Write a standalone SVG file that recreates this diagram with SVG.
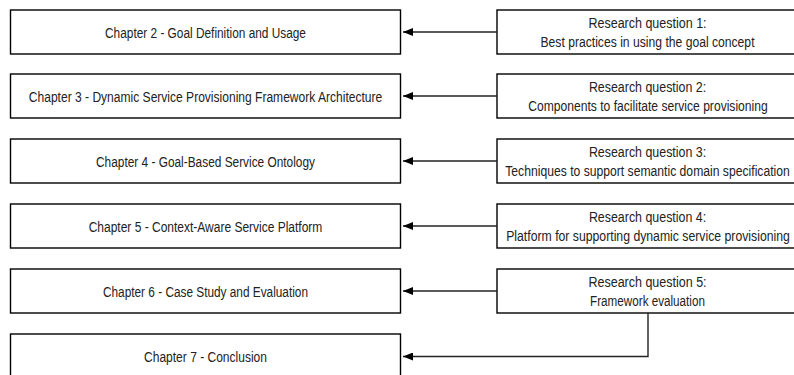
<svg xmlns="http://www.w3.org/2000/svg" width="794" height="375" viewBox="0 0 794 375">
<style>
.box{fill:#fff;stroke:#000;stroke-width:1.4}
.t{font-family:"Liberation Sans",Arial,sans-serif;font-size:14px;fill:#222;text-anchor:middle}
.c{fill:none;stroke:#222;stroke-width:1.4}
</style>
<defs>
<marker id="ah" markerWidth="10" markerHeight="8" refX="10" refY="4" orient="auto" markerUnits="userSpaceOnUse">
<path d="M0,0 L10,4 L0,8 Z" fill="#000"/>
</marker>
</defs>
<g id="ch2"><rect class="box" x="10.5" y="10" width="390" height="44"/><text class="t" transform="translate(205.5,37.5) scale(0.82,1)" textLength="245" lengthAdjust="spacingAndGlyphs">Chapter 2 - Goal Definition and Usage</text></g>
<g id="ch3"><rect class="box" x="10.5" y="74" width="390" height="44"/><text class="t" transform="translate(205.5,101.5) scale(0.82,1)" textLength="431" lengthAdjust="spacingAndGlyphs">Chapter 3 - Dynamic Service Provisioning Framework Architecture</text></g>
<g id="ch4"><rect class="box" x="10.5" y="139" width="390" height="44"/><text class="t" transform="translate(205.5,166.5) scale(0.82,1)" textLength="267" lengthAdjust="spacingAndGlyphs">Chapter 4 - Goal-Based Service Ontology</text></g>
<g id="ch5"><rect class="box" x="10.5" y="204" width="390" height="44"/><text class="t" transform="translate(205.5,231.5) scale(0.82,1)" textLength="285" lengthAdjust="spacingAndGlyphs">Chapter 5 - Context-Aware Service Platform</text></g>
<g id="ch6"><rect class="box" x="10.5" y="269" width="390" height="44"/><text class="t" transform="translate(205.5,296.5) scale(0.82,1)" textLength="250" lengthAdjust="spacingAndGlyphs">Chapter 6 - Case Study and Evaluation</text></g>
<g id="ch7"><rect class="box" x="10.5" y="334" width="390" height="44"/><text class="t" transform="translate(205.5,361.5) scale(0.82,1)" textLength="150" lengthAdjust="spacingAndGlyphs">Chapter 7 - Conclusion</text></g>

<g id="rq1"><rect class="box" x="497" y="10" width="301" height="44"/><text class="t" transform="translate(647.5,27.5) scale(0.82,1)" textLength="144" lengthAdjust="spacingAndGlyphs">Research question 1:</text><text class="t" transform="translate(647.5,46.5) scale(0.82,1)" textLength="261" lengthAdjust="spacingAndGlyphs">Best practices in using the goal concept</text></g>
<g id="rq2"><rect class="box" x="497" y="74" width="301" height="44"/><text class="t" transform="translate(647.5,91.5) scale(0.82,1)" textLength="143" lengthAdjust="spacingAndGlyphs">Research question 2:</text><text class="t" transform="translate(648,110.5) scale(0.82,1)" textLength="292" lengthAdjust="spacingAndGlyphs">Components to facilitate service provisioning</text></g>
<g id="rq3"><rect class="box" x="497" y="139" width="301" height="44"/><text class="t" transform="translate(647.5,156.5) scale(0.82,1)" textLength="143" lengthAdjust="spacingAndGlyphs">Research question 3:</text><text class="t" transform="translate(647.5,175.5) scale(0.82,1)" textLength="347" lengthAdjust="spacingAndGlyphs">Techniques to support semantic domain specification</text></g>
<g id="rq4"><rect class="box" x="497" y="204" width="301" height="44"/><text class="t" transform="translate(647.5,221.5) scale(0.82,1)" textLength="143" lengthAdjust="spacingAndGlyphs">Research question 4:</text><text class="t" transform="translate(648,240.5) scale(0.82,1)" textLength="346" lengthAdjust="spacingAndGlyphs">Platform for supporting dynamic service provisioning</text></g>
<g id="rq5"><rect class="box" x="497" y="269" width="301" height="44"/><text class="t" transform="translate(647.5,286.5) scale(0.82,1)" textLength="144" lengthAdjust="spacingAndGlyphs">Research question 5:</text><text class="t" transform="translate(647.5,305.5) scale(0.82,1)" textLength="140" lengthAdjust="spacingAndGlyphs">Framework evaluation</text></g>

<g id="connectors">
<path class="c" d="M497,32 H403" marker-end="url(#ah)"/>
<path class="c" d="M497,96 H403" marker-end="url(#ah)"/>
<path class="c" d="M497,161 H403" marker-end="url(#ah)"/>
<path class="c" d="M497,226 H403" marker-end="url(#ah)"/>
<path class="c" d="M497,291 H403" marker-end="url(#ah)"/>
<path class="c" d="M648,313 V356.5 H403" marker-end="url(#ah)"/>
</g>
</svg>
